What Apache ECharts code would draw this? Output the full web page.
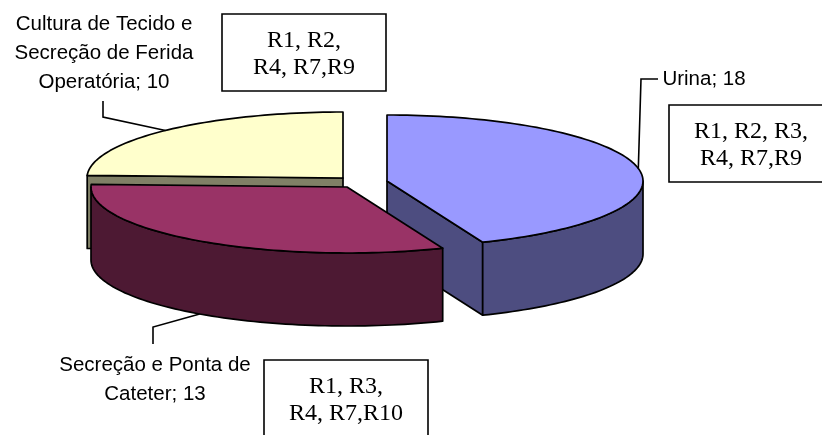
<!DOCTYPE html>
<html>
<head>
<meta charset="utf-8">
<style>html,body{margin:0;padding:0;background:#fff}#chart{width:822px;height:435px}</style>
<script src="https://cdn.jsdelivr.net/npm/echarts@6/dist/echarts.min.js"></script>
</head>
<body>
<div id="chart"></div>
<script>
// Amostras clínicas e perfis de resistência
const categories = ['Urina', 'Secreção e Ponta de\nCateter', 'Cultura de Tecido e\nSecreção de Ferida\nOperatória'];
const values = [18, 13, 10];
const profiles = ['R1, R2, R3,\nR4, R7,R9', 'R1, R3,\nR4, R7,R10', 'R1, R2,\nR4, R7,R9'];

const topColors = ['#9999FF', '#993366', '#FFFFCC'];
const sideColors = ['#4D4D80', '#4D1933', '#808066'];

// Projeção da pizza inclinada: semi-eixos, espessura e centro de cada fatia destacada
const RX = 256, RY = 66, DEPTH = 73;
const centers = [[387, 181], [347, 187], [343, 178]];
const stacking = [2, 3, 1];

// Rótulos, linhas de chamada e caixas
const labelPos = [[704, 79], [155, 379.5], [104, 53]];
const leaders = [
  [[658, 79], [641, 79]],
  [[153, 344], [153, 327]],
  [[103, 101], [103, 117]]
];
const leaderOnWall = [false, true, false];
const boxes = [[669, 105, 164, 77], [264, 360, 164, 80], [222, 14, 164, 77]];

const total = values.reduce((a, b) => a + b, 0);
const toRad = d => d * Math.PI / 180;

function arcPoint(c, deg, dy) {
  return [c[0] + RX * Math.sin(toRad(deg)), c[1] - RY * Math.cos(toRad(deg)) + (dy || 0)];
}
function arcPoints(c, from, to, dy) {
  const pts = [], n = Math.max(2, Math.ceil(Math.abs(to - from) / 1.5));
  for (let i = 0; i <= n; i++) pts.push(arcPoint(c, from + (to - from) * i / n, dy));
  return pts;
}
const line = { stroke: '#000', lineWidth: 1.7, lineJoin: 'round' };

function renderSlice(params, api) {
  const i = params.dataIndex;
  const value = api.value(0);
  const start = values.slice(0, i).reduce((a, b) => a + b, 0) / total * 360;
  const end = start + value / total * 360;
  const c = centers[i];
  const z = stacking[i] * 10;
  const children = [];
  const side = Object.assign({ fill: sideColors[i] }, line);
  const poly = (points, style, z2) => ({ type: 'polygon', shape: { points }, style, z2 });

  // Faces de corte voltadas para o observador
  [[start, Math.sin(toRad(start)) < -1e-6], [end, Math.sin(toRad(end)) > 1e-6]].forEach(([a, visible]) => {
    if (!visible) return;
    const p = arcPoint(c, a);
    children.push(poly([c, p, [p[0], p[1] + DEPTH], [c[0], c[1] + DEPTH]], side, z));
  });

  // Parede externa: só a metade frontal da elipse aparece
  const wallFrom = Math.max(start, 90), wallTo = Math.min(end, 270);
  if (wallTo > wallFrom) {
    children.push(poly(
      arcPoints(c, wallFrom, wallTo).concat(arcPoints(c, wallTo, wallFrom, DEPTH)), side, z + 1));
  }

  // Tampo da fatia
  children.push(poly([c].concat(arcPoints(c, start, end)),
    Object.assign({ fill: topColors[i] }, line), z + 2));

  // Linha de chamada ancorada no meio do arco
  const anchor = arcPoint(c, (start + end) / 2, leaderOnWall[i] ? DEPTH : 0);
  children.push({ type: 'polyline', shape: { points: leaders[i].concat([anchor]) },
    style: { stroke: '#000', lineWidth: 1.6, fill: null }, z2: 60 });

  // Rótulo da fatia
  children.push({ type: 'text', z2: 70, style: {
    x: labelPos[i][0], y: labelPos[i][1],
    text: categories[i] + '; ' + value,
    fontFamily: '"Liberation Sans"', fontSize: 20.5, lineHeight: 29,
    fill: '#000', align: 'center', verticalAlign: 'middle'
  }});

  // Caixa com os perfis de resistência
  const b = boxes[i];
  children.push({ type: 'rect', z2: 70, shape: { x: b[0], y: b[1], width: b[2], height: b[3] },
    style: { fill: '#fff', stroke: '#000', lineWidth: 1.6 } });
  children.push({ type: 'text', z2: 71, style: {
    x: b[0] + b[2] / 2, y: b[1] + 40,
    text: profiles[i],
    fontFamily: '"Liberation Serif"', fontSize: 24, lineHeight: 27.5,
    fill: '#000', align: 'center', verticalAlign: 'middle'
  }});
  return { type: 'group', children };
}

const chart = echarts.init(document.getElementById('chart'), null, { renderer: 'canvas' });
chart.setOption({
  animation: false,
  backgroundColor: '#fff',
  series: [{
    type: 'custom',
    coordinateSystem: 'none',
    clip: false,
    data: values.map(v => [v]),
    renderItem: renderSlice
  }]
});
</script>
</body>
</html>
